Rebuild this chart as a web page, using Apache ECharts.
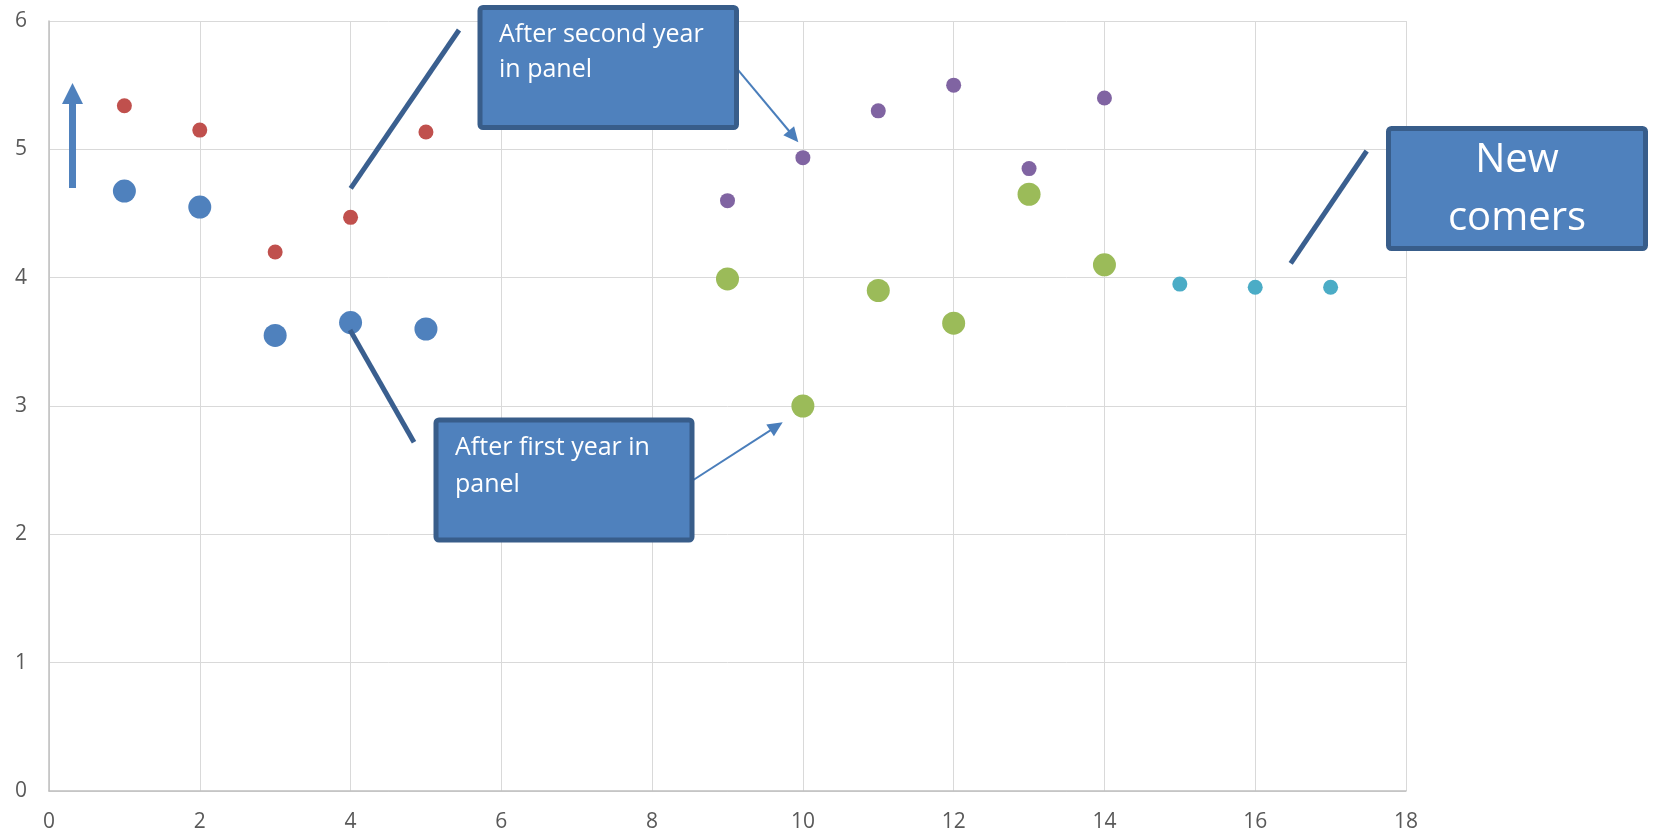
<!DOCTYPE html>
<html>
<head>
<meta charset="utf-8">
<title>Panel scores</title>
<script src="https://cdn.jsdelivr.net/npm/echarts@6/dist/echarts.min.js"></script>
<style>
  html, body { margin: 0; padding: 0; background: #ffffff; }
  #chart { width: 1654px; height: 835px; }
</style>
</head>
<body>
<div id="chart"></div>
<script>
// Scores by position, one series per panel group
var firstYearX   = [1, 2, 3, 4, 5];
var firstYearY   = [4.675, 4.55, 3.55, 3.65, 3.60];
var baselineX    = [1, 2, 3, 4, 5];
var baselineY    = [5.34, 5.15, 4.20, 4.47, 5.135];
var secondYearX  = [9, 10, 11, 12, 13, 14];
var secondYearY  = [4.60, 4.935, 5.30, 5.50, 4.85, 5.40];
var afterFirstX  = [9, 10, 11, 12, 13, 14];
var afterFirstY  = [3.99, 3.00, 3.90, 3.645, 4.65, 4.10];
var newcomersX   = [15, 16, 17];
var newcomersY   = [3.95, 3.925, 3.925];

var xTicks = { min: 0, max: 18, interval: 2 };
var yTicks = { min: 0, max: 6, interval: 1 };

function pairs(xs, ys) {
  return xs.map(function (x, i) { return [x, ys[i]]; });
}

// Arrowhead polygon for a thin connector ending at (x2, y2)
function arrowHead(x1, y1, x2, y2, len, half) {
  var dx = x2 - x1, dy = y2 - y1;
  var d = Math.sqrt(dx * dx + dy * dy);
  var ux = dx / d, uy = dy / d;
  var bx = x2 - ux * len, by = y2 - uy * len;
  return [[x2, y2], [bx - uy * half, by + ux * half], [bx + uy * half, by - ux * half]];
}

var boxFill = '#4F81BD';
var boxStroke = '#385D8A';
var leaderColor = '#3A5F8F';
var connColor = '#4A7EBB';

var graphics = [
  // upward arrow
  { type: 'rect', z: 100, shape: { x: 69, y: 103, width: 7, height: 85 }, style: { fill: boxFill } },
  { type: 'polygon', z: 100, shape: { points: [[62, 104], [83, 104], [72.5, 83]] }, style: { fill: boxFill } },

  // leader lines
  { type: 'line', z: 100, shape: { x1: 350.7, y1: 188.3, x2: 459, y2: 30 }, style: { stroke: leaderColor, lineWidth: 5 } },
  { type: 'line', z: 100, shape: { x1: 350, y1: 330, x2: 414, y2: 442.3 }, style: { stroke: leaderColor, lineWidth: 5 } },
  { type: 'line', z: 100, shape: { x1: 1290.7, y1: 263.3, x2: 1366.7, y2: 151 }, style: { stroke: leaderColor, lineWidth: 5 } },

  // thin connectors with arrowheads
  { type: 'line', z: 100, shape: { x1: 736.7, y1: 68.3, x2: 792, y2: 134.5 }, style: { stroke: connColor, lineWidth: 2 } },
  { type: 'polygon', z: 100, shape: { points: arrowHead(736.7, 68.3, 798.3, 142.3, 15, 7) }, style: { fill: connColor } },
  { type: 'line', z: 100, shape: { x1: 693.3, y1: 480, x2: 775, y2: 427.3 }, style: { stroke: connColor, lineWidth: 2 } },
  { type: 'polygon', z: 100, shape: { points: arrowHead(693.3, 480, 782.7, 422.3, 15, 7) }, style: { fill: connColor } },

  // callout boxes
  { type: 'rect', z: 101, shape: { x: 480, y: 7.5, width: 256.5, height: 120, r: 3 },
    style: { fill: boxFill, stroke: boxStroke, lineWidth: 5 } },
  { type: 'text', z: 102, x: 499, y: 17.5,
    style: { text: 'After second year\nin panel', fill: '#ffffff', font: '25px "Open Sans"', lineHeight: 35,
             align: 'left', verticalAlign: 'top' } },

  { type: 'rect', z: 101, shape: { x: 436, y: 420, width: 256, height: 120, r: 3 },
    style: { fill: boxFill, stroke: boxStroke, lineWidth: 5 } },
  { type: 'text', z: 102, x: 455, y: 430,
    style: { text: 'After first year in\npanel', fill: '#ffffff', font: '25px "Open Sans"', lineHeight: 36.7,
             align: 'left', verticalAlign: 'top' } },

  { type: 'rect', z: 101, shape: { x: 1388.5, y: 128.5, width: 257, height: 120, r: 3 },
    style: { fill: boxFill, stroke: boxStroke, lineWidth: 5 } },
  { type: 'text', z: 102, x: 1517, y: 132,
    style: { text: 'New\ncomers', fill: '#ffffff', font: '40px "Open Sans"', lineHeight: 58,
             align: 'center', verticalAlign: 'top' } }
];

var axisLabelStyle = { color: '#595959', fontSize: 21, fontFamily: 'Open Sans' };

var option = {
  animation: false,
  backgroundColor: '#ffffff',
  grid: { left: 49, right: 248, top: 21, bottom: 44, containLabel: false },
  xAxis: {
    type: 'value',
    min: xTicks.min, max: xTicks.max, interval: xTicks.interval,
    axisLine: { show: true, lineStyle: { color: '#bfbfbf', width: 1.5 } },
    axisTick: { show: false },
    axisLabel: Object.assign({ margin: 21 }, axisLabelStyle),
    splitLine: { show: true, lineStyle: { color: '#d9d9d9', width: 1 } }
  },
  yAxis: {
    type: 'value',
    min: yTicks.min, max: yTicks.max, interval: yTicks.interval,
    axisLine: { show: true, lineStyle: { color: '#bfbfbf', width: 1.5 } },
    axisTick: { show: false },
    axisLabel: Object.assign({ margin: 22 }, axisLabelStyle),
    splitLine: { show: true, lineStyle: { color: '#d9d9d9', width: 1 } }
  },
  series: [
    { name: 'First year', type: 'scatter', symbolSize: 23, itemStyle: { color: '#4F81BD', opacity: 1 },
      data: pairs(firstYearX, firstYearY) },
    { name: 'Baseline', type: 'scatter', symbolSize: 15, itemStyle: { color: '#C0504D', opacity: 1 },
      data: pairs(baselineX, baselineY) },
    { name: 'After second year', type: 'scatter', symbolSize: 15, itemStyle: { color: '#8064A2', opacity: 1 },
      data: pairs(secondYearX, secondYearY) },
    { name: 'After first year', type: 'scatter', symbolSize: 23, itemStyle: { color: '#9BBB59', opacity: 1 },
      data: pairs(afterFirstX, afterFirstY) },
    { name: 'New comers', type: 'scatter', symbolSize: 15, itemStyle: { color: '#4BACC6', opacity: 1 },
      data: pairs(newcomersX, newcomersY) }
  ],
  graphic: graphics
};

var chart = echarts.init(document.getElementById('chart'), null, { renderer: 'canvas' });
chart.setOption(option);
</script>
</body>
</html>
